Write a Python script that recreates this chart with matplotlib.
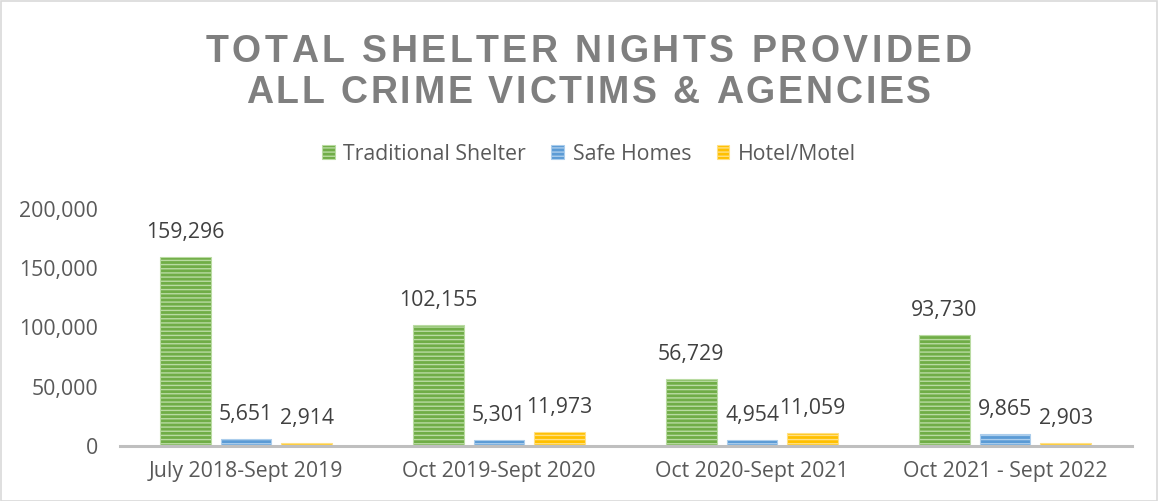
import matplotlib
matplotlib.use("Agg")
import matplotlib.pyplot as plt
import numpy as np
from matplotlib.patches import Rectangle, Patch

categories = ["July 2018-Sept 2019", "Oct 2019-Sept 2020", "Oct 2020-Sept 2021", "Oct 2021 - Sept 2022"]
series_names = ["Traditional Shelter", "Safe Homes", "Hotel/Motel"]
traditional = [159296, 102155, 56729, 93730]
safe_homes = [5651, 5301, 4954, 9865]
hotel_motel = [2914, 11973, 11059, 2903]
yticks = [0, 50000, 100000, 150000, 200000]
title_lines = ["TOTAL SHELTER NIGHTS PROVIDED", "ALL CRIME VICTIMS & AGENCIES"]

colors = ["#70AD47", "#5B9BD5", "#FFC000"]
hatch_colors = ["#B9DBA2", "#ABCDEC", "#FFE084"]

plt.rcParams['font.family'] = ['Open Sans', 'DejaVu Sans']
plt.rcParams['hatch.linewidth'] = 1.0

W, H = 1158, 501
FS = 15.3
fig = plt.figure(figsize=(W / 100, H / 100), dpi=100)
fig.patch.set_facecolor("white")
fig.patches.append(Rectangle((0.5 / W, 0.5 / H), 1 - 1.5 / W, 1 - 1.5 / H, transform=fig.transFigure,
                             fill=False, edgecolor="#D9D9D9", linewidth=1.2))

ax = fig.add_axes([119.5 / W, 55 / H, (1131.5 - 119.5) / W, (446 - 209) / H])
x = np.arange(len(categories))
bw = 0.2
offs = [-0.24, 0.0, 0.24]
data = [traditional, safe_homes, hotel_motel]
for i, (vals, c, hc, name) in enumerate(zip(data, colors, hatch_colors, series_names)):
    bars = ax.bar(x + offs[i], vals, width=bw, color=c, edgecolor=hc, linewidth=0.8,
                  hatch="----", label=name, zorder=2)
    for b, v in zip(bars, vals):
        ax.annotate(f"{v:,}", (b.get_x() + b.get_width() / 2, v), xytext=(0, 10),
                    textcoords="offset points", ha="center", va="bottom",
                    fontsize=FS, color="#404040")

ax.set_xlim(-0.5, len(categories) - 0.5)
ax.set_ylim(0, 200000)
ax.set_yticks(yticks)
ax.set_yticklabels([f"{t:,}" for t in yticks])
ax.set_xticks(x)
ax.set_xticklabels(categories)
ax.tick_params(axis="both", length=0, labelsize=FS, labelcolor="#595959")
ax.tick_params(axis="y", pad=15.5)
ax.tick_params(axis="x", pad=11)
for s in ["top", "right", "left"]:
    ax.spines[s].set_visible(False)
ax.spines["bottom"].set_color("#BFBFBF")
ax.spines["bottom"].set_linewidth(2.2)
ax.set_facecolor("none")

handles = [Patch(facecolor=c, edgecolor=hc, hatch="----", linewidth=0.8) for c, hc in zip(colors, hatch_colors)]
fig.legend(handles, series_names, loc="center", bbox_to_anchor=(589 / W, 1 - 154 / H), ncol=3,
           frameon=False, fontsize=FS, labelcolor="#595959", handlelength=0.6, handleheight=0.6,
           handletextpad=0.4, columnspacing=1.2)

# Title with letter spacing
renderer = fig.canvas.get_renderer()
def spaced_text(s, cx, y_base, size, tracking):
    kw = dict(fontsize=size, fontweight="bold", color="#7F7F7F", family="Liberation Sans",
              va="baseline", ha="left")
    widths = []
    for ch in s:
        if ch == " ":
            t = fig.text(0, 0, "a a", **kw)
            w2 = t.get_window_extent(renderer).width
            t.remove()
            t = fig.text(0, 0, "aa", **kw)
            w1 = t.get_window_extent(renderer).width
            t.remove()
            widths.append(w2 - w1)
        else:
            t = fig.text(0, 0, ch, **kw)
            widths.append(t.get_window_extent(renderer).width)
            t.remove()
    total = sum(widths) + tracking * (len(s) - 1)
    xpos = cx - total / 2
    for ch, w in zip(s, widths):
        if ch != " ":
            fig.text(xpos / W, 1 - y_base / H, ch, **kw)
        xpos += w + tracking

spaced_text(title_lines[0], 588.5, 62, 27, 3.5)
spaced_text(title_lines[1], 588.5, 103, 27, 2.8)

fig.savefig("out.png", dpi=100)
